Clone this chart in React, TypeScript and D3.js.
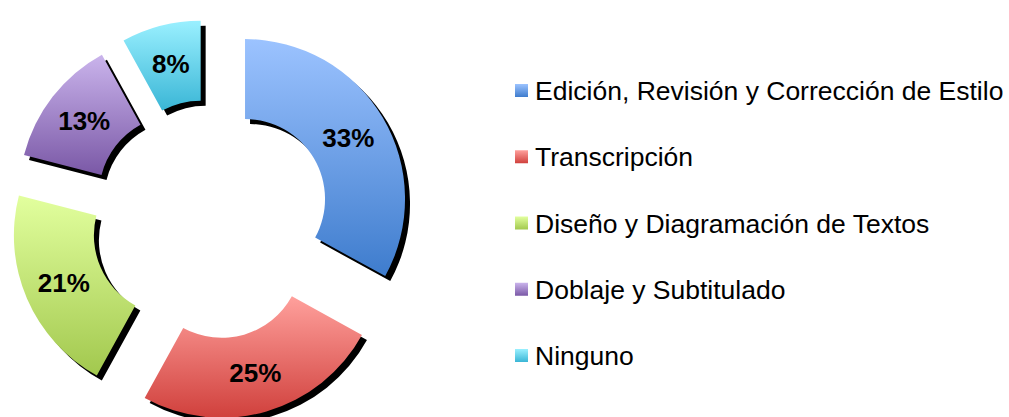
import React from "react";
import * as d3 from "d3";

const categories = [
  "Edición, Revisión y Corrección de Estilo",
  "Transcripción",
  "Diseño y Diagramación de Textos",
  "Doblaje y Subtitulado",
  "Ninguno",
];
const values = [33, 25, 21, 13, 8];
const labels = ["33%", "25%", "21%", "13%", "8%"];
const topColors = ["#9cc3ff", "#ffa09c", "#e2ff9e", "#cab4ec", "#9af0ff"];
const bottomColors = ["#3e7ccd", "#d0403c", "#a2c84e", "#7a58a6", "#3ab6d6"];

const W = 1009;
const H = 417;
const cx = 210.6;
const cy = 219.4;
const outerR = 160;
const innerR = 80;
const explode = 40;
const shadowDx = 5;
const shadowDy = 5;

export default function App() {
  const pie = d3.pie<number>().sort(null).value((d) => d);
  const arcs = pie(values);
  const arcGen = d3.arc<d3.PieArcDatum<number>>().innerRadius(innerR).outerRadius(outerR);

  const legendY = d3.scalePoint<number>().domain(d3.range(categories.length)).range([91, 356]);

  return (
    <svg width={W} height={H} style={{ position: "absolute", left: 0, top: 0 }}>
      <defs>
        {arcs.map((a, i) => (
          <linearGradient key={i} id={`g${i}`} x1="0" y1="0" x2="0" y2="1">
            <stop offset="0%" stopColor={topColors[i]} />
            <stop offset="100%" stopColor={bottomColors[i]} />
          </linearGradient>
        ))}
        <filter id="blur" x="-10%" y="-10%" width="120%" height="120%">
          <feGaussianBlur stdDeviation="0.6" />
        </filter>
      </defs>
      {arcs.map((a, i) => {
        const mid = (a.startAngle + a.endAngle) / 2;
        const ox = cx + explode * Math.sin(mid);
        const oy = cy - explode * Math.cos(mid);
        return (
          <g key={i} transform={`translate(${ox},${oy})`}>
            <path d={arcGen(a) || ""} fill="#000" transform={`translate(${shadowDx},${shadowDy})`} filter="url(#blur)" />
          </g>
        );
      })}
      {arcs.map((a, i) => {
        const mid = (a.startAngle + a.endAngle) / 2;
        const ox = cx + explode * Math.sin(mid);
        const oy = cy - explode * Math.cos(mid);
        const [lx, ly] = arcGen.centroid(a);
        return (
          <g key={i} transform={`translate(${ox},${oy})`}>
            <path d={arcGen(a) || ""} fill={`url(#g${i})`} />
            <text
              x={lx}
              y={ly + 9}
              textAnchor="middle"
              fontFamily="'Liberation Sans', Arial, sans-serif"
              fontWeight="bold"
              fontSize={26}
              fill="#000"
            >
              {labels[i]}
            </text>
          </g>
        );
      })}
      {categories.map((c, i) => {
        const y = legendY(i)!;
        return (
          <g key={i} transform={`translate(515,${y})`}>
            <rect x={0} y={-7} width={13} height={13} fill={`url(#g${i})`} />
            <text
              x={20}
              y={9}
              fontFamily="'Liberation Sans', Arial, sans-serif"
              fontSize={26.5}
              fill="#000"
            >
              {c}
            </text>
          </g>
        );
      })}
    </svg>
  );
}
